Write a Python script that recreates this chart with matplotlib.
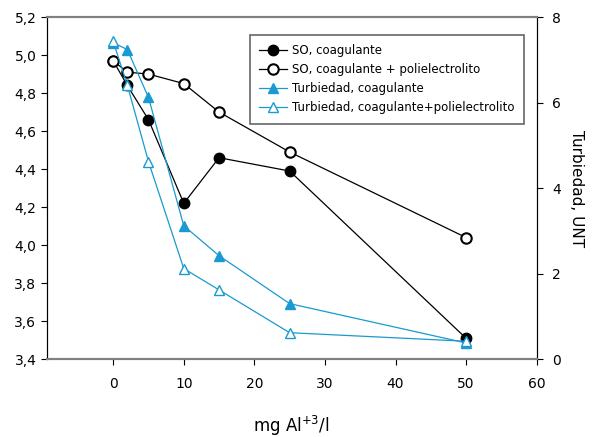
import matplotlib
matplotlib.use('Agg')
import matplotlib.pyplot as plt

plt.rcParams['font.family'] = ['DejaVu Sans']

dosis = [0, 2, 5, 10, 15, 25, 50]
so_coag = [4.97, 4.84, 4.66, 4.22, 4.46, 4.39, 3.51]
so_coag_poli = [4.97, 4.91, 4.90, 4.85, 4.70, 4.49, 4.04]
turb_coag = [7.40, 7.24, 6.12, 3.12, 2.42, 1.30, 0.38]
turb_coag_poli = [7.43, 6.41, 4.62, 2.12, 1.62, 0.62, 0.42]

azul = '#1a9ad0'

fig = plt.figure(figsize=(5.93, 4.37), dpi=100)
ax = fig.add_axes([0.079, 0.178, 0.826, 0.783])
ax2 = ax.twinx()

l1, = ax.plot(dosis, so_coag, '-o', color='black', lw=0.9, ms=7.5,
              mfc='black', mec='black', label='SO, coagulante')
l2, = ax.plot(dosis, so_coag_poli, '-o', color='black', lw=0.9, ms=7.5,
              mfc='white', mec='black', mew=1.5, label='SO, coagulante + polielectrolito')
l3, = ax2.plot(dosis, turb_coag, '-^', color=azul, lw=0.9, ms=6.5,
               mfc=azul, mec=azul, label='Turbiedad, coagulante')
l4, = ax2.plot(dosis, turb_coag_poli, '-^', color=azul, lw=0.9, ms=6.5,
               mfc='white', mec=azul, mew=1.0, label='Turbiedad, coagulante+polielectrolito')

ax.set_xlim(-9.4, 60)
ax.set_ylim(3.4, 5.2)
ax2.set_ylim(0, 8)
ax.set_xticks([0, 10, 20, 30, 40, 50, 60])
ax.set_yticks([3.4, 3.6, 3.8, 4.0, 4.2, 4.4, 4.6, 4.8, 5.0, 5.2])
ax.set_yticklabels([f'{v:.1f}'.replace('.', ',') for v in ax.get_yticks()])
ax2.set_yticks([0, 2, 4, 6, 8])

ax.tick_params(labelsize=10, length=4, direction='out')
ax.tick_params(axis='x', pad=9)
ax2.tick_params(labelsize=10, length=4, direction='out', pad=7)

for a in (ax, ax2):
    a.spines['top'].set_color('#808080')
    a.spines['bottom'].set_color('#808080')
    a.spines['top'].set_linewidth(1.5)
    a.spines['bottom'].set_linewidth(1.5)

ax.set_xlabel('mg Al$^{+3}$/l', fontsize=12)
ax.xaxis.set_label_coords(0.5, -0.16)
ax2.set_ylabel('Turbiedad, UNT', fontsize=11, rotation=270, labelpad=17)

leg = fig.legend(handles=[l1, l2, l3, l4], loc='upper left',
                 bbox_to_anchor=(244 / 593, 1 - 29 / 437), fontsize=8.5,
                 frameon=True, fancybox=False, handlelength=2.3,
                 borderpad=0.8, labelspacing=0.5, handletextpad=0.5)
leg.get_frame().set_edgecolor('#404040')
leg.get_frame().set_linewidth(1.2)

fig.savefig('out.png', dpi=100)
